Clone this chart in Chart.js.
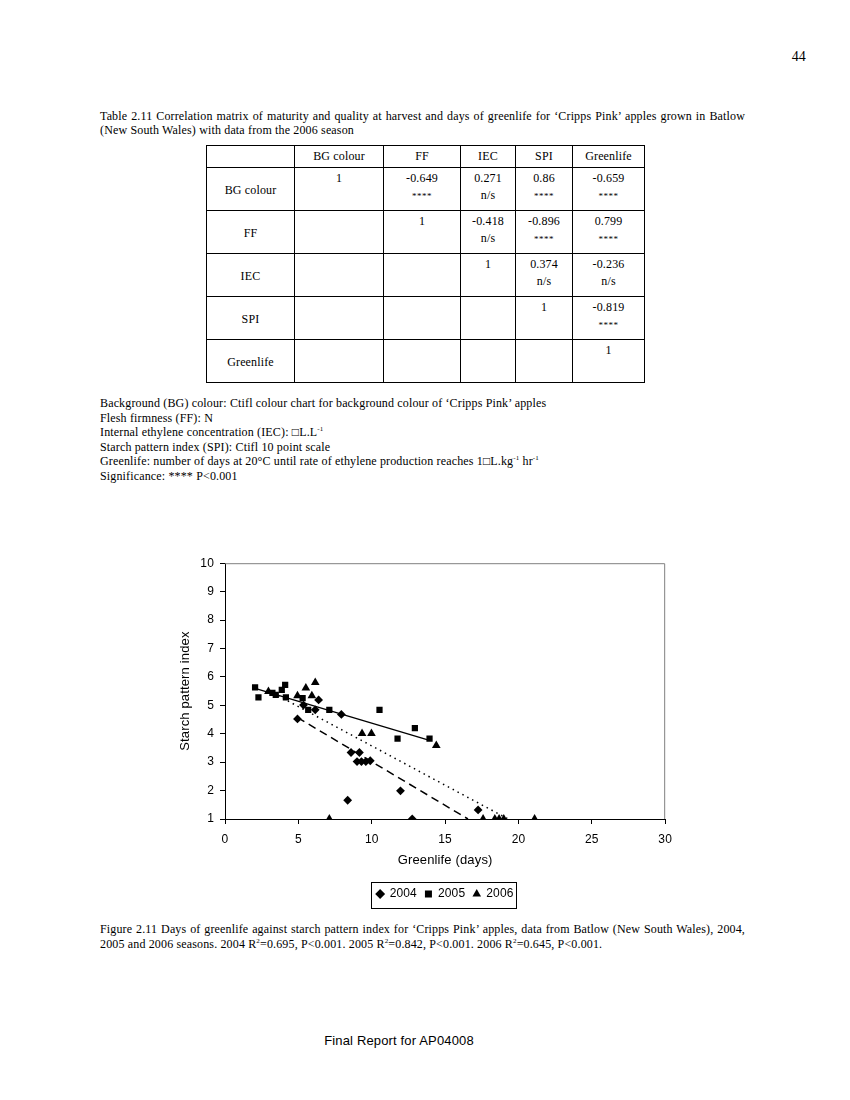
<!DOCTYPE html>
<html>
<head>
<meta charset="utf-8">
<script src="https://cdn.jsdelivr.net/npm/chart.js@4/dist/chart.umd.min.js"></script>
<style>
  body { margin: 0; background: #fff; }
  #page { position: relative; width: 850px; height: 1100px; font-family: "Liberation Serif", "Times New Roman", serif; font-size: 12px; letter-spacing: 0.15px; color: #000; }
  .abs { position: absolute; }
  #pnum { right: 44px; top: 49px; font-size: 14px; }
  #cap1 { left: 100px; top: 109px; width: 645px; line-height: 14px; text-align: justify; text-align-last: left; }
  table { position: absolute; left: 206px; top: 145px; border-collapse: collapse; }
  td { border: 1px solid #000; text-align: center; padding: 0; line-height: 17px; vertical-align: top; }
  td.lab { vertical-align: middle; }
  tr.h td { height: 21px; vertical-align: middle; }
  tr.r td { height: 43px; padding-top: 2px; box-sizing: border-box; }
  .st { font-size: 9px; letter-spacing: 0.5px; }
  #notes { left: 100px; top: 396px; line-height: 14.5px; }
  #notes sup, #figcap sup { font-size: 7px; line-height: 0; }
  #chartBox { left: 170px; top: 550px; width: 510px; height: 368px; }
  #figcap { left: 100px; top: 922px; width: 645px; line-height: 15px; text-align: justify; text-align-last: left; }
  #foot { left: 0; width: 798px; top: 1033px; text-align: center; font-family: "Liberation Sans Narrow", "Liberation Sans", Arial, sans-serif; font-size: 13px; }
</style>
</head>
<body>
<div id="page">
  <div class="abs" id="pnum">44</div>
  <div class="abs" id="cap1">Table 2.11 Correlation matrix of maturity and quality at harvest and days of greenlife for ‘Cripps Pink’ apples grown in Batlow (New South Wales) with data from the 2006 season</div>

  <table>
    <tr class="h"><td style="width:87px"></td><td style="width:88px">BG colour</td><td style="width:76px">FF</td><td style="width:54px">IEC</td><td style="width:56px">SPI</td><td style="width:71px">Greenlife</td></tr>
    <tr class="r"><td class="lab">BG colour</td><td>1</td><td>-0.649<br><span class="st">****</span></td><td>0.271<br>n/s</td><td>0.86<br><span class="st">****</span></td><td>-0.659<br><span class="st">****</span></td></tr>
    <tr class="r"><td class="lab">FF</td><td></td><td>1</td><td>-0.418<br>n/s</td><td>-0.896<br><span class="st">****</span></td><td>0.799<br><span class="st">****</span></td></tr>
    <tr class="r"><td class="lab">IEC</td><td></td><td></td><td>1</td><td>0.374<br>n/s</td><td>-0.236<br>n/s</td></tr>
    <tr class="r"><td class="lab">SPI</td><td></td><td></td><td></td><td>1</td><td>-0.819<br><span class="st">****</span></td></tr>
    <tr class="r"><td class="lab">Greenlife</td><td></td><td></td><td></td><td></td><td>1</td></tr>
  </table>

  <div class="abs" id="notes">
    Background (BG) colour: Ctifl colour chart for background colour of ‘Cripps Pink’ apples<br>
    Flesh firmness (FF): N<br>
    Internal ethylene concentration (IEC): □L.L<sup>-1</sup><br>
    Starch pattern index (SPI): Ctifl 10 point scale<br>
    Greenlife: number of days at 20°C until rate of ethylene production reaches 1□L.kg<sup>-1</sup> hr<sup>-1</sup><br>
    Significance: **** P&lt;0.001
  </div>

  <div class="abs" id="chartBox"><canvas id="grafico"></canvas></div>

  <div class="abs" id="figcap">Figure 2.11 Days of greenlife against starch pattern index for ‘Cripps Pink’ apples, data from Batlow (New South Wales), 2004, 2005 and 2006 seasons. 2004 R<sup>2</sup>=0.695, P&lt;0.001. 2005 R<sup>2</sup>=0.842, P&lt;0.001. 2006 R<sup>2</sup>=0.645, P&lt;0.001.</div>

  <div class="abs" id="foot">Final Report for AP04008</div>
</div>

<script>
// Datos (dias de greenlife vs indice de almidon)
const x2004 = [5.35, 6.38, 6.15, 7.93, 4.94, 8.59, 9.16, 9.0, 9.3, 9.6, 9.9, 8.36, 11.96, 17.25, 12.76];
const y2004 = [5.01, 5.19, 4.84, 4.68, 4.52, 3.34, 3.34, 3.02, 3.02, 3.02, 3.05, 1.66, 1.99, 1.32, 1.0];

const x2005 = [2.05, 2.28, 3.23, 3.46, 3.87, 4.10, 4.15, 5.29, 5.67, 7.11, 10.53, 12.94, 11.76, 13.94];
const y2005 = [5.63, 5.28, 5.44, 5.37, 5.54, 5.72, 5.28, 5.25, 4.84, 4.84, 4.84, 4.20, 3.83, 3.83];

const x2006 = [2.96, 4.94, 5.51, 6.15, 5.92, 9.34, 9.98, 14.4, 7.11, 17.59, 18.39, 18.68, 19.0, 21.1];
const y2006 = [5.49, 5.34, 5.61, 5.80, 5.34, 4.01, 4.01, 3.59, 1.0, 1.0, 1.0, 1.0, 1.0, 1.0];

// Lineas de tendencia (extremos)
const trendX2004 = [4.94, 16.56], trendY2004 = [4.57, 1.0];
const trendX2005 = [2.05, 13.94], trendY2005 = [5.6, 3.77];
const trendX2006 = [2.96, 19.3],  trendY2006 = [5.52, 1.0];

const seriesLabels = ['2004', '2005', '2006'];
const xTicks = [0, 5, 10, 15, 20, 25, 30];
const yTicks = [1, 2, 3, 4, 5, 6, 7, 8, 9, 10];

function pares(xs, ys) {
    return xs.map((x, i) => ({ x: x, y: ys[i] }));
}

// Marco gris del area y borde de la leyenda
const marcoPlugin = {
    id: 'marco',
    beforeDatasetsDraw(chart) {
        const a = chart.chartArea, ctx = chart.ctx;
        ctx.save();
        ctx.strokeStyle = '#808080';
        ctx.lineWidth = 1;
        ctx.beginPath();
        ctx.moveTo(a.left, a.top + 0.5);
        ctx.lineTo(a.right - 0.5, a.top + 0.5);
        ctx.lineTo(a.right - 0.5, a.bottom);
        ctx.stroke();
        ctx.restore();
    },
    afterDraw(chart) {
        const boxes = chart.legend.legendHitBoxes;
        if (!boxes || !boxes.length) return;
        const left = Math.min(...boxes.map(b => b.left)) - 6;
        const right = Math.max(...boxes.map(b => b.left + b.width)) + 2;
        const top = Math.min(...boxes.map(b => b.top)) - 6;
        const bottom = Math.max(...boxes.map(b => b.top + b.height)) + 8;
        const ctx = chart.ctx;
        ctx.save();
        ctx.strokeStyle = '#000';
        ctx.lineWidth = 1;
        ctx.strokeRect(Math.round(left) + 0.5, Math.round(top) + 0.5, Math.round(right - left), Math.round(bottom - top));
        ctx.restore();
    }
};

const ctx = document.getElementById('grafico').getContext('2d');
const fuente = { family: '"Liberation Sans", Arial, sans-serif', size: 12 };
const fuenteTitulo = { family: '"Liberation Sans", Arial, sans-serif', size: 13 };

const chart = new Chart(ctx, {
    type: 'scatter',
    data: {
        datasets: [
            { label: seriesLabels[0], data: pares(x2004, y2004), pointStyle: 'rectRot', radius: 4.4, backgroundColor: '#000', borderColor: '#000', borderWidth: 0 },
            { label: seriesLabels[1], data: pares(x2005, y2005), pointStyle: 'rect', radius: 4.4, backgroundColor: '#000', borderColor: '#000', borderWidth: 0 },
            { label: seriesLabels[2], data: pares(x2006, y2006), pointStyle: 'triangle', radius: 5, backgroundColor: '#000', borderColor: '#000', borderWidth: 0 },
            { label: 't2004', data: pares(trendX2004, trendY2004), showLine: true, pointRadius: 0, borderColor: '#000', borderWidth: 1.5, borderDash: [8, 5] },
            { label: 't2005', data: pares(trendX2005, trendY2005), showLine: true, pointRadius: 0, borderColor: '#000', borderWidth: 1.3 },
            { label: 't2006', data: pares(trendX2006, trendY2006), showLine: true, pointRadius: 0, borderColor: '#000', borderWidth: 1.5, borderDash: [1.5, 4] }
        ]
    },
    options: {
        responsive: true,
        maintainAspectRatio: false,
        animation: false,
        layout: { padding: { left: 0, right: 13, top: 13, bottom: 8 } },
        plugins: {
            legend: {
                position: 'bottom',
                fullSize: false,
                labels: {
                    filter: item => seriesLabels.includes(item.text),
                    usePointStyle: true,
                    boxWidth: 7,
                    boxHeight: 7,
                    padding: 8,
                    color: '#000',
                    font: { family: '"Liberation Sans", Arial, sans-serif', size: 12 }
                }
            },
            tooltip: { enabled: false }
        },
        scales: {
            x: {
                type: 'linear',
                min: 0, max: 30,
                afterBuildTicks: s => { s.ticks = xTicks.map(v => ({ value: v })); },
                afterFit: s => { s.height = 61; },
                ticks: { color: '#000', font: fuente, padding: 8, maxRotation: 0 },
                grid: { drawOnChartArea: false, tickLength: 5, color: '#000' },
                border: { color: '#000' },
                title: { display: true, text: 'Greenlife (days)', color: '#000', font: fuenteTitulo, padding: { top: 4, bottom: 12 } }
            },
            y: {
                min: 1, max: 10,
                afterBuildTicks: s => { s.ticks = yTicks.map(v => ({ value: v })); },
                afterFit: s => { s.width = 55; },
                ticks: { color: '#000', font: fuente, padding: 6 },
                grid: { drawOnChartArea: false, tickLength: 5, color: '#000' },
                border: { color: '#000' },
                title: { display: true, text: 'Starch pattern index', color: '#000', font: fuenteTitulo, padding: { top: 8, bottom: 4 } }
            }
        }
    },
    plugins: [marcoPlugin]
});
</script>
</body>
</html>
